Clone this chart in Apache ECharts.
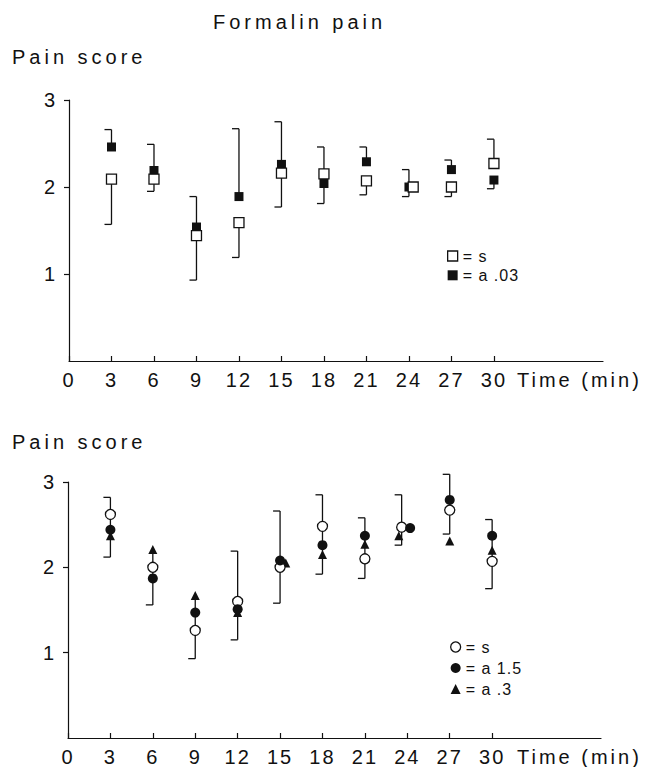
<!DOCTYPE html>
<html><head><meta charset="utf-8">
<script src="https://cdn.jsdelivr.net/npm/echarts@6/dist/echarts.min.js"></script>
<style>html,body{margin:0;padding:0;background:#fff}#c{width:651px;height:767px}</style>
</head><body><div id="c"></div>
<script>
// ---- data ----
const times = [3, 6, 9, 12, 15, 18, 21, 24, 27, 30];
const xTicks = [0, 3, 6, 9, 12, 15, 18, 21, 24, 27, 30];
const yTicks = [1, 2, 3];

// top panel
const topSaline = [2.09, 2.09, 1.44, 1.59, 2.16, 2.15, 2.07, 2.00, 2.00, 2.27];
const topSalineT = [3, 6, 9, 12, 15, 18, 21, 24.3, 27, 30];
const topDrug003 = [2.46, 2.19, 1.54, 1.89, 2.26, 2.04, 2.29, 2.00, 2.20, 2.08];
const topErrHigh = [2.66, 2.49, 1.89, 2.67, 2.75, 2.46, 2.46, 2.20, 2.31, 2.55];
const topErrLow = [1.57, 1.95, 0.93, 1.19, 1.77, 1.81, 1.91, 1.89, 1.89, 1.98];

// bottom panel
const botSaline = [2.62, 2.00, 1.26, 1.60, 2.00, 2.48, 2.10, 2.47, 2.67, 2.07];
const botSalineT = [3, 6, 9, 12, 15, 18, 21, 23.6, 27, 30];
const botDrug15 = [2.44, 1.87, 1.47, 1.51, 2.08, 2.26, 2.37, 2.46, 2.79, 2.37];
const botDrug15T = [3, 6, 9, 12, 15, 18, 21, 24.2, 27, 30];
const botDrug3 = [2.37, 2.21, 1.67, 1.47, 2.05, 2.15, 2.27, 2.37, 2.31, 2.20];
const botDrug3T = [3, 6, 9, 12, 15.4, 18, 21, 23.4, 27, 30];
const botErrHigh = [2.82, null, null, 2.19, 2.66, 2.85, 2.58, 2.85, 3.09, 2.56];
const botErrLow = [2.12, 1.56, 0.93, 1.15, 1.58, 1.92, 1.87, 2.26, 2.39, 1.75];
const botErrT = [3, 6, 9, 12, 15, 18, 21, 23.6, 27, 30];

// ---- helpers ----
const INK = '#111';
const FONT = 'Liberation Sans, Arial, sans-serif';

function errItems(seriesList, hi, lo, xs) {
  return times.map((t, i) => {
    const vals = seriesList.map(s => s[i]);
    return { x: xs ? xs[i] : t, mx: Math.max(...vals), mn: Math.min(...vals), hi: hi[i], lo: lo[i] };
  });
}
function errSeries(items, gi, connected) {
  return {
    type: 'custom', xAxisIndex: gi, yAxisIndex: gi, silent: true, clip: false, z: 2,
    data: items.map(d => [d.x, d.mx]),
    renderItem(params, api) {
      const d = items[params.dataIndex];
      const c = [];
      const ls = { stroke: INK, lineWidth: 1.3 };
      const P = v => api.coord([d.x, v]);
      const seg = (a, b) => { const p = P(a), q = P(b); c.push({ type: 'line', shape: { x1: p[0], y1: p[1], x2: q[0], y2: q[1] }, style: ls }); };
      const cap = v => { const p = P(v); c.push({ type: 'line', shape: { x1: p[0] - 7, y1: p[1], x2: p[0], y2: p[1] }, style: ls }); };
      const top = d.hi != null ? d.hi : d.mx;
      if (connected) {
        seg(d.lo, top);
      } else {
        seg(d.mx, top);
        seg(d.mn, d.lo);
      }
      if (d.hi != null) cap(d.hi);
      if (d.lo != null) cap(d.lo);
      return { type: 'group', children: c };
    }
  };
}
function xAxis(gi, nameGap) {
  return {
    type: 'value', gridIndex: gi, min: 0, max: 37.7,
    axisLine: { show: true, onZero: false, lineStyle: { color: INK, width: 1.2 } },
    axisTick: { show: true, inside: true, length: 5, customValues: xTicks, lineStyle: { color: INK, width: 1.2 } },
    axisLabel: { customValues: xTicks, margin: 9, fontSize: 20, color: INK, fontFamily: FONT },
    splitLine: { show: false },
    name: 'Time (min)', nameLocation: 'end', nameGap: nameGap,
    nameTextStyle: { fontSize: 20, color: INK, fontFamily: FONT, align: 'left', verticalAlign: 'top', padding: [9, 0, 0, 0] }
  };
}
function yAxis(gi) {
  return {
    type: 'value', gridIndex: gi, min: 0, max: 3, interval: 1,
    axisLine: { show: true, onZero: false, lineStyle: { color: INK, width: 1.2 } },
    axisTick: { show: true, inside: false, length: 5, customValues: yTicks, lineStyle: { color: INK, width: 1.2 } },
    axisLabel: { customValues: yTicks, margin: 12, fontSize: 20, color: INK, fontFamily: FONT },
    splitLine: { show: false }
  };
}
const pts = (xs, ys) => ys.map((v, i) => [xs[i], v]);
const openStyle = { color: '#fff', borderColor: INK, borderWidth: 1.3, opacity: 1 };
const fillStyle = { color: INK, opacity: 1 };
const titleStyle = { fontSize: 20, fontWeight: 'normal', color: INK, fontFamily: FONT };
const legendText = { fontSize: 16, lineHeight: 16, color: INK, fontFamily: FONT };

const option = {
  animation: false,
  backgroundColor: '#fff',
  title: [
    { text: 'Formalin pain', left: 213, top: 12, padding: 0, textStyle: titleStyle },
    { text: 'Pain score', left: 12, top: 47, padding: 0, textStyle: titleStyle },
    { text: 'Pain score', left: 12, top: 432, padding: 0, textStyle: titleStyle }
  ],
  grid: [
    { left: 69, top: 100, width: 534, height: 261 },
    { left: 68, top: 482, width: 533, height: 258 }
  ],
  xAxis: [xAxis(0, -86), xAxis(1, -84)],
  yAxis: [yAxis(0), yAxis(1)],
  legend: [
    { left: 447, top: 248, padding: 0, orient: 'vertical', itemWidth: 10, itemHeight: 10, itemGap: 3.3,
      selectedMode: false, textStyle: legendText, formatter: n => '= ' + n,
      data: [
        { name: 's', icon: 'rect', itemStyle: openStyle },
        { name: 'a .03', icon: 'rect', itemStyle: fillStyle }
      ] },
    { left: 450, top: 639, padding: 0, orient: 'vertical', itemWidth: 10, itemHeight: 10, itemGap: 5,
      selectedMode: false, textStyle: legendText, formatter: n => '= ' + n,
      data: [
        { name: 's', icon: 'circle', itemStyle: openStyle },
        { name: 'a 1.5', icon: 'circle', itemStyle: fillStyle },
        { name: 'a .3', icon: 'triangle', itemStyle: fillStyle }
      ] }
  ],
  series: [
    errSeries(errItems([topSaline, topDrug003], topErrHigh, topErrLow), 0, false),
    { type: 'scatter', name: 's', xAxisIndex: 0, yAxisIndex: 0, silent: true, z: 4,
      symbol: 'rect', symbolSize: 10, itemStyle: openStyle, data: pts(topSalineT, topSaline) },
    { type: 'scatter', name: 'a .03', xAxisIndex: 0, yAxisIndex: 0, silent: true, z: 3,
      symbol: 'rect', symbolSize: 9, itemStyle: fillStyle, data: pts(times, topDrug003) },

    errSeries(errItems([botSaline, botDrug15, botDrug3], botErrHigh, botErrLow, botErrT), 1, true),
    { type: 'scatter', name: 'a .3', xAxisIndex: 1, yAxisIndex: 1, silent: true, z: 3,
      symbol: 'triangle', symbolSize: 9, itemStyle: fillStyle, data: pts(botDrug3T, botDrug3) },
    { type: 'scatter', name: 's', xAxisIndex: 1, yAxisIndex: 1, silent: true, z: 4,
      symbol: 'circle', symbolSize: 10, itemStyle: openStyle, data: pts(botSalineT, botSaline) },
    { type: 'scatter', name: 'a 1.5', xAxisIndex: 1, yAxisIndex: 1, silent: true, z: 5,
      symbol: 'circle', symbolSize: 10, itemStyle: fillStyle, data: pts(botDrug15T, botDrug15) }
  ]
};

const chart = echarts.init(document.getElementById('c'), null, { renderer: 'svg' });
chart.setOption(option);

function spaceText() {
  document.querySelectorAll('#c svg text').forEach(t => {
    const s = t.textContent.trim();
    let ls = 4;
    if (/^\d+$/.test(s)) ls = 2;
    else if (s.startsWith('=')) ls = 1;
    else if (s === 'Time (min)') ls = 3;
    t.setAttribute('letter-spacing', ls);
  });
}
spaceText();
chart.on('finished', spaceText);
</script>
</body></html>
